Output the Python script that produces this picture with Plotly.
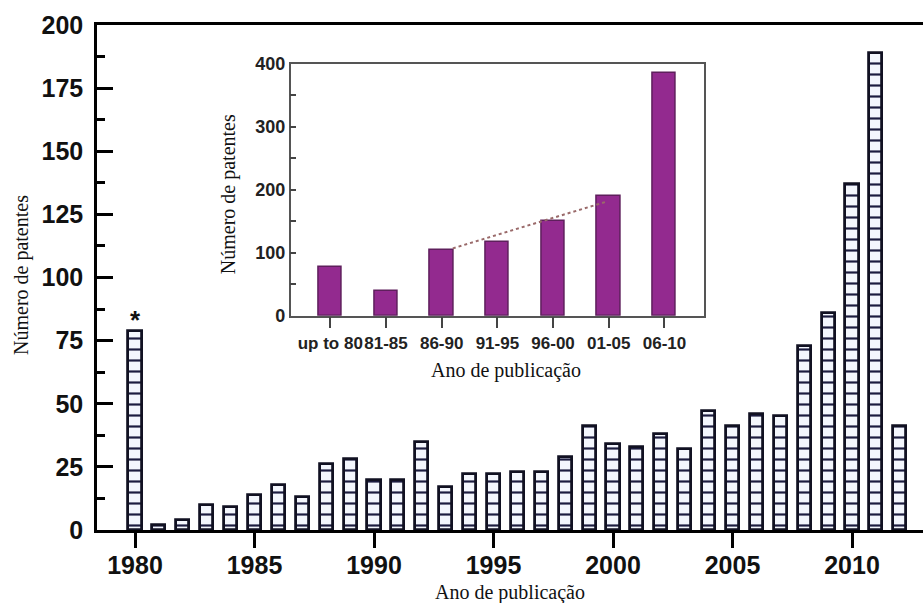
import plotly.graph_objects as go

# ---- data ----
years = list(range(1980, 2013))
counts = [79, 2, 4, 10, 9, 14, 18, 13, 26, 28, 20, 20, 35, 17, 22, 22, 23, 23,
          29, 41, 34, 33, 38, 32, 47, 41, 46, 45, 73, 86, 137, 189, 41]

periods = ["up to 80", "81-85", "86-90", "91-95", "96-00", "01-05", "06-10"]
period_totals = [78, 40, 105, 117, 150, 190, 386]

trend_x = [2.2, 4.95]
trend_y = [107, 181]

main_ticks = [1980, 1985, 1990, 1995, 2000, 2005, 2010]

SANS = "Arial, Liberation Sans, sans-serif"
SERIF = "Times New Roman, Liberation Serif, serif"

fig = go.Figure()

fig.add_trace(go.Bar(
    x=years, y=counts, width=0.55,
    marker=dict(
        color="#f3f6fd",
        line=dict(color="#111122", width=2.8),
        pattern=dict(shape="-", size=11, solidity=0.2,
                     fgcolor="#1c1c40", bgcolor="#f3f6fd", fillmode="replace"),
    ),
    xaxis="x", yaxis="y", showlegend=False,
))

fig.add_trace(go.Bar(
    x=list(range(len(periods))), y=period_totals, width=0.42,
    marker=dict(color="#932a8f", line=dict(color="#5e1f5c", width=1.5)),
    xaxis="x2", yaxis="y2", showlegend=False,
))

fig.add_trace(go.Scatter(
    x=trend_x, y=trend_y, mode="lines",
    line=dict(color="#9a6a6a", width=2, dash="dot"),
    xaxis="x2", yaxis="y2", showlegend=False,
))

fig.update_layout(
    width=923, height=603,
    margin=dict(l=97, r=0, t=25, b=73),
    plot_bgcolor="white", paper_bgcolor="white",
    bargap=0,
    xaxis=dict(
        domain=[0, 1], range=[1978.41, 2012.97],
        tickvals=main_ticks, ticks="outside", ticklen=15, tickwidth=2.5, tickcolor="black",
        showline=True, linewidth=3, linecolor="black", mirror=True,
        showgrid=False, zeroline=False, tickangle=0, ticklabelstandoff=-4,
        tickfont=dict(family=SANS, size=25, color="#111", weight="bold"),
    ),
    yaxis=dict(
        domain=[0, 1], range=[0, 200], dtick=25, tick0=0,
        ticks="inside", ticklen=16, tickwidth=2.5, tickcolor="black",
        minor=dict(dtick=12.5, tick0=0, ticks="inside", ticklen=8, tickwidth=2.5, tickcolor="black"),
        showline=True, linewidth=2.5, linecolor="black",
        showgrid=False, zeroline=False, ticklabelstandoff=6,
        tickfont=dict(family=SANS, size=25, color="#111", weight="bold"),
    ),
    xaxis2=dict(
        domain=[0.2345, 0.7349], anchor="y2", range=[-0.71, 6.71],
        tickvals=list(range(len(periods))), ticktext=periods, tickangle=0,
        ticks="outside", ticklen=11, tickwidth=1.5, tickcolor="#444",
        showline=True, linewidth=1.5, linecolor="#555", mirror=True,
        showgrid=False, zeroline=False,
        tickfont=dict(family=SANS, size=17, color="#222", weight="bold"),
    ),
    yaxis2=dict(
        domain=[0.4244, 0.9228], anchor="x2", range=[0, 400], dtick=100, tick0=0,
        ticks="inside", ticklen=6, tickwidth=1.5, tickcolor="#444",
        minor=dict(dtick=50, tick0=0, ticks="inside", ticklen=6, tickwidth=1.5, tickcolor="#444"),
        showline=True, linewidth=1.5, linecolor="#555", mirror=True,
        showgrid=False, zeroline=False,
        tickfont=dict(family=SANS, size=18, color="#222", weight="bold"),
    ),
    annotations=[
        dict(text="Ano de publicação", xref="paper", yref="paper", x=0.5, y=-0.1228,
             xanchor="center", yanchor="middle", showarrow=False,
             font=dict(family=SERIF, size=20, color="#111")),
        dict(text="Número de patentes", xref="paper", yref="paper", x=-0.0908, y=0.505,
             xanchor="center", yanchor="middle", showarrow=False, textangle=-90,
             font=dict(family=SERIF, size=20, color="#111")),
        dict(text="Número de patentes", xref="paper", yref="paper", x=0.1586, y=0.665,
             xanchor="center", yanchor="middle", showarrow=False, textangle=-90,
             font=dict(family=SERIF, size=20, color="#111")),
        dict(text="Ano de publicação", xref="paper", yref="paper", x=0.4952, y=0.3168,
             xanchor="center", yanchor="middle", showarrow=False,
             font=dict(family=SERIF, size=20, color="#111")),
        dict(text="*", xref="x", yref="y", x=years[0], y=counts[0],
             xanchor="center", yanchor="bottom", showarrow=False, yshift=-6,
             font=dict(family=SANS, size=26, color="#111", weight="bold")),
    ],
)

fig.write_html("out.html", config={"displayModeBar": False},
               post_script="document.body.style.margin='0';document.body.style.padding='0';")
